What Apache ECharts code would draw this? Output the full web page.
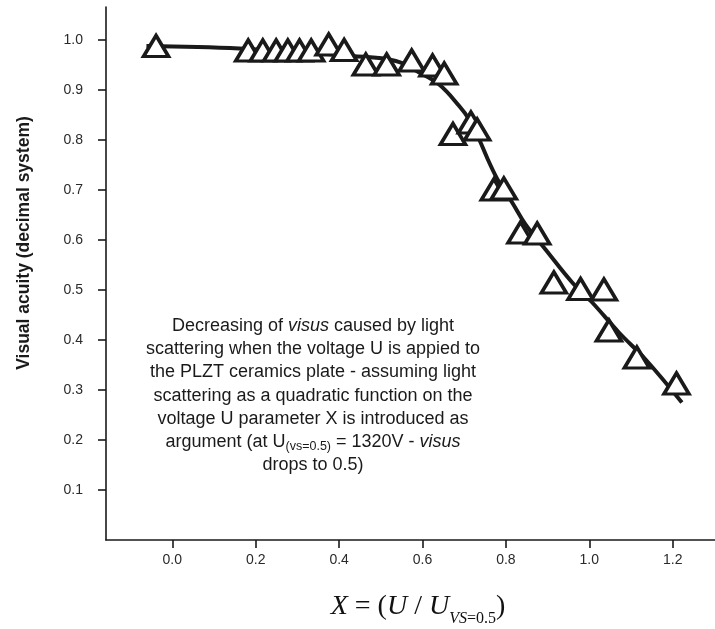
<!DOCTYPE html>
<html>
<head>
<meta charset="utf-8">
<script src="https://cdn.jsdelivr.net/npm/echarts@6/dist/echarts.min.js"></script>
<style>html,body{margin:0;padding:0;background:#fff}#c{width:715px;height:629px}</style>
</head>
<body>
<div id="c"></div>
<script>
// Measured triangles (X, visual acuity)
var pointX = [-0.039, 0.182, 0.217, 0.249, 0.277, 0.305, 0.333, 0.375, 0.412, 0.464, 0.514, 0.574, 0.624, 0.652, 0.673, 0.716, 0.731, 0.771, 0.795, 0.835, 0.875, 0.915, 0.979, 1.035, 1.047, 1.114, 1.209];
var pointY = [0.988, 0.979, 0.979, 0.979, 0.979, 0.979, 0.979, 0.991, 0.980, 0.951, 0.951, 0.959, 0.949, 0.933, 0.812, 0.835, 0.821, 0.701, 0.703, 0.615, 0.613, 0.515, 0.502, 0.501, 0.419, 0.365, 0.313];
// Fitted curve
var curveX = [-0.062, 0.161, 0.431, 0.536, 0.592, 0.640, 0.688, 0.712, 0.736, 0.760, 0.784, 0.815, 0.847, 0.895, 0.959, 1.007, 1.071, 1.135, 1.222];
var curveY = [0.988, 0.983, 0.968, 0.958, 0.935, 0.911, 0.868, 0.841, 0.801, 0.755, 0.715, 0.675, 0.631, 0.581, 0.515, 0.475, 0.415, 0.361, 0.275];
var xTicks = [0.0, 0.2, 0.4, 0.6, 0.8, 1.0, 1.2];
var yTicks = [0.1, 0.2, 0.3, 0.4, 0.5, 0.6, 0.7, 0.8, 0.9, 1.0];

var pts = pointX.map(function (x, i) { return [x, pointY[i]]; });
var curve = curveX.map(function (x, i) { return [x, curveY[i]]; });

var chart = echarts.init(document.getElementById('c'), null, {renderer: 'canvas'});
var sans = 'Liberation Sans, Arial, sans-serif';
var serif = 'Liberation Serif, Times New Roman, serif';
chart.setOption({
  animation: false,
  backgroundColor: '#fff',
  grid: {left: 106, right: 0, top: 7, bottom: 89, containLabel: false},
  xAxis: {
    type: 'value', min: -0.159, max: 1.3014,
    axisLine: {show: true, onZero: false, lineStyle: {color: '#1a1a1a', width: 1.6}},
    axisTick: {show: true, length: 8, lineStyle: {color: '#1a1a1a', width: 1.6}, customValues: xTicks},
    axisLabel: {customValues: xTicks, margin: 13, color: '#2a2a2a', fontSize: 14, fontFamily: sans,
      formatter: function (v) { return v.toFixed(1); }},
    splitLine: {show: false}
  },
  yAxis: {
    type: 'value', min: 0, max: 1.066,
    axisLine: {show: true, onZero: false, lineStyle: {color: '#1a1a1a', width: 1.6}},
    axisTick: {show: true, length: 8, lineStyle: {color: '#1a1a1a', width: 1.6}, customValues: yTicks},
    axisLabel: {customValues: yTicks, margin: 23, color: '#2a2a2a', fontSize: 14, fontFamily: sans,
      formatter: function (v) { return v.toFixed(1); }},
    splitLine: {show: false}
  },
  series: [
    {
      type: 'line', data: curve, smooth: 0.4, showSymbol: false, symbol: 'none', z: 2,
      lineStyle: {color: '#1a1a1a', width: 4}
    },
    {
      type: 'scatter', data: pts, symbol: 'triangle', symbolSize: [25, 21], z: 3,
      itemStyle: {color: '#fff', borderColor: '#1a1a1a', borderWidth: 3.5, borderJoin: 'miter', opacity: 1}
    }
  ],
  graphic: [
    {
      type: 'text', x: 24, y: 243, rotation: Math.PI / 2,
      style: {text: 'Visual acuity (decimal system)', fill: '#1a1a1a', font: 'bold 17.5px ' + sans,
        align: 'center', verticalAlign: 'middle'}
    },
    {
      type: 'text', x: 313, y: 314,
      style: {
        text: '{n|Decreasing of }{i|visus}{n| caused by light}\n' +
              '{n|scattering when the voltage U is appied to}\n' +
              '{n|the PLZT ceramics plate - assuming light}\n' +
              '{n|scattering as a quadratic function on the}\n' +
              '{n|voltage U parameter X is introduced as}\n' +
              '{n|argument (at U}{s|(vs=0.5)}{n| = 1320V - }{i|visus}\n' +
              '{n|drops to 0.5)}',
        align: 'center', verticalAlign: 'top', fill: '#1a1a1a',
        rich: {
          n: {fontSize: 18, fontFamily: sans, lineHeight: 23.3, fill: '#1a1a1a'},
          i: {fontSize: 18, fontFamily: sans, fontStyle: 'italic', lineHeight: 23.3, fill: '#1a1a1a'},
          s: {fontSize: 12.5, fontFamily: sans, lineHeight: 12, verticalAlign: 'top', padding: [10, 0, 0, 0], fill: '#1a1a1a'}
        }
      }
    },
    {
      type: 'text', x: 418, y: 587,
      style: {
        text: '{i|X}{n| = (}{i|U}{n| / }{i|U}{s|VS}{t|=0.5}{n|)}',
        align: 'center', verticalAlign: 'top', fill: '#111',
        rich: {
          n: {fontSize: 28, fontFamily: serif, lineHeight: 40, fill: '#111'},
          i: {fontSize: 28, fontFamily: serif, fontStyle: 'italic', lineHeight: 40, fill: '#111'},
          s: {fontSize: 16, fontFamily: serif, fontStyle: 'italic', lineHeight: 15, verticalAlign: 'top', padding: [24, 0, 0, 0], fill: '#111'},
          t: {fontSize: 16, fontFamily: serif, lineHeight: 15, verticalAlign: 'top', padding: [24, 0, 0, 0], fill: '#111'}
        }
      }
    }
  ]
});
</script>
</body>
</html>
